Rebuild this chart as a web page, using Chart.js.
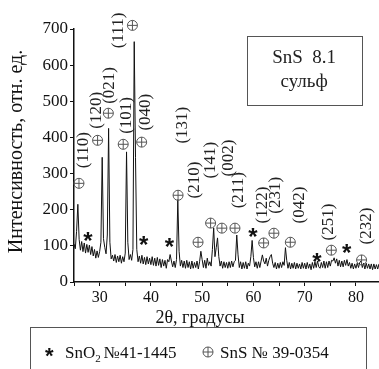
<!DOCTYPE html>
<html>
<head>
<meta charset="utf-8">
<script src="https://cdn.jsdelivr.net/npm/chart.js@4.4.0/dist/chart.umd.min.js"></script>
<style>
  html, body { margin: 0; padding: 0; background: #fff; }
</style>
</head>
<body>
<canvas id="xrd" width="379" height="369"></canvas>
<script>
// XRD pattern, SnS 8.1 (sulfurised) on a 0.25 deg grid
var startAngle = 25, stepAngle = 0.25;
var intensity = [
  105, 92, 140, 215, 118, 88, 112, 84, 108, 80, 104, 82, 102, 76, 98, 72, 90, 66, 86, 68,     // 25
  84, 110, 345, 120, 96, 78, 130, 425, 110, 64, 74, 58, 76, 54, 72, 56, 74, 52, 70, 56,        // 30
  80, 360, 110, 62, 76, 60, 90, 665, 345, 90, 56, 72, 52, 74, 50, 68, 48, 70, 50, 66,          // 35
  48, 70, 46, 66, 44, 68, 46, 64, 40, 62, 44, 60, 38, 62, 56, 76, 58, 42, 58, 40,              // 40
  62, 228, 85, 44, 60, 40, 58, 38, 60, 40, 56, 36, 58, 38, 54, 40, 58, 36, 56, 85,             // 45
  62, 40, 60, 38, 66, 46, 56, 44, 90, 150, 70, 95, 122, 70, 44, 58, 38, 56, 40, 54,            // 50
  38, 56, 40, 58, 42, 56, 60, 130, 75, 40, 56, 36, 54, 38, 56, 36, 52, 44, 70, 115,            // 55
  68, 42, 56, 38, 56, 40, 58, 75, 58, 50, 66, 44, 60, 70, 76, 52, 40, 54, 36, 52,              // 60
  38, 54, 40, 56, 46, 95, 60, 38, 54, 36, 52, 38, 54, 36, 52, 38, 50, 36, 54, 38,              // 65
  52, 36, 54, 38, 50, 34, 54, 38, 56, 40, 58, 42, 38, 54, 40, 58, 38, 56, 40, 58,              // 70
  44, 60, 58, 67, 52, 64, 44, 60, 42, 58, 42, 60, 46, 62, 44, 54, 38, 52, 36, 50,              // 75
  38, 52, 40, 54, 58, 40, 52, 36, 52, 38, 50, 36, 50, 34, 50, 36, 48, 36, 50                   // 80
];
var twoTheta = intensity.map(function (v, i) { return startAngle + i * stepAngle; });

var xTicks = [30, 40, 50, 60, 70, 80];
var yTicks = [0, 100, 200, 300, 400, 500, 600, 700];

// hkl labels of SnS reflections, placed in data units (2theta, intensity)
var hklText = ['(110)', '(120)', '(021)', '(111)', '(101)', '(040)', '(131)', '(210)',
               '(141)', '(002)', '(211)', '(122)', '(231)', '(042)', '(251)', '(232)'];
var hklAt = [[26.95, 365], [29.3, 475], [32.0, 544], [33.6, 696], [35.3, 461], [39.0, 470],
             [46.2, 434], [48.6, 282], [51.7, 337], [55.2, 343], [57.0, 254], [61.8, 213],
             [64.4, 240], [68.9, 213], [74.7, 166], [82.1, 155]];
// SnS marks (circled plus) and SnO2 marks (star)
var snsMarks = [[25.97, 273], [29.6, 392], [31.7, 467], [36.4, 710], [34.6, 381], [38.2, 387],
                [45.3, 240], [49.2, 110], [51.65, 163], [53.85, 149], [56.4, 149], [62.0, 108],
                [64.0, 135], [67.2, 110], [75.2, 88], [81.1, 61]];
var sno2Marks = [[27.7, 127], [38.6, 116], [43.6, 110], [59.9, 138], [72.4, 69], [78.2, 94]];

var serif = '"Liberation Serif", "Times New Roman", serif';

function plusCircle(ctx, px, py, r) {
  ctx.beginPath();
  ctx.arc(px, py, r, 0, Math.PI * 2);
  ctx.moveTo(px - r, py); ctx.lineTo(px + r, py);
  ctx.moveTo(px, py - r); ctx.lineTo(px, py + r);
  ctx.stroke();
}

var annotate = {
  id: 'annotate',
  afterDraw: function (chart) {
    var ctx = chart.ctx, x = chart.scales.x, y = chart.scales.y, area = chart.chartArea;
    ctx.save();

    // peak labels
    ctx.fillStyle = '#222';
    ctx.font = '17px ' + serif;
    ctx.textAlign = 'center';
    ctx.textBaseline = 'middle';
    hklText.forEach(function (t, i) {
      ctx.save();
      ctx.translate(x.getPixelForValue(hklAt[i][0]), y.getPixelForValue(hklAt[i][1]));
      ctx.rotate(-Math.PI / 2);
      ctx.fillText(t, 0, 0);
      ctx.restore();
    });

    ctx.strokeStyle = '#555';
    ctx.lineWidth = 1;
    snsMarks.forEach(function (m) {
      plusCircle(ctx, x.getPixelForValue(m[0]), y.getPixelForValue(m[1]), 5);
    });

    ctx.fillStyle = '#111';
    ctx.font = 'bold 24px "Liberation Sans", sans-serif';
    sno2Marks.forEach(function (m) {
      ctx.fillText('*', x.getPixelForValue(m[0]), y.getPixelForValue(m[1]) + 6);
    });

    // sample box
    var bx0 = x.getPixelForValue(58.7), bx1 = x.getPixelForValue(81.1);
    var by0 = y.getPixelForValue(682), by1 = y.getPixelForValue(490);
    ctx.strokeStyle = '#555';
    ctx.strokeRect(Math.round(bx0) + 0.5, Math.round(by0) + 0.5, Math.round(bx1 - bx0), Math.round(by1 - by0));
    ctx.fillStyle = '#222';
    ctx.font = '19px ' + serif;
    ctx.fillText('SnS  8.1', (bx0 + bx1) / 2, by0 + 23);
    ctx.fillText('сульф', (bx0 + bx1) / 2, by0 + 47);

    // axis titles
    ctx.fillStyle = '#111';
    ctx.font = '20px ' + serif;
    ctx.save();
    ctx.translate(17, (area.top + area.bottom) / 2 - 4);
    ctx.rotate(-Math.PI / 2);
    ctx.fillText('Интенсивность, отн. ед.', 0, 0);
    ctx.restore();
    ctx.font = '18px ' + serif;
    ctx.fillText('2θ, градусы', 200, area.bottom + 36);

    // phase legend
    ctx.strokeStyle = '#555';
    ctx.strokeRect(30.5, area.bottom + 45.5, 336, 60);
    ctx.textAlign = 'left';
    ctx.textBaseline = 'alphabetic';
    ctx.fillStyle = '#111';
    ctx.font = 'bold 22px "Liberation Sans", sans-serif';
    ctx.fillText('*', 45, area.bottom + 81);
    ctx.font = '17px ' + serif;
    var lx = 65, ly = area.bottom + 76;
    ctx.fillText('SnO', lx, ly);
    lx += ctx.measureText('SnO').width;
    ctx.font = '11px ' + serif;
    ctx.fillText('2', lx, ly + 4);
    lx += ctx.measureText('2').width + 3;
    ctx.font = '17px ' + serif;
    ctx.fillText('№41-1445', lx, ly);
    plusCircle(ctx, 208, ly - 6, 5);
    ctx.fillText('SnS № 39-0354', 220, ly);

    ctx.restore();
  }
};

new Chart(document.getElementById('xrd'), {
  type: 'line',
  data: {
    datasets: [{
      data: twoTheta.map(function (a, i) { return { x: a, y: intensity[i] }; }),
      borderColor: '#111',
      borderWidth: 1,
      pointRadius: 0,
      tension: 0,
      fill: false
    }]
  },
  options: {
    responsive: false,
    animation: false,
    devicePixelRatio: 1,
    layout: { padding: { top: 29, right: 0, left: 0, bottom: 0 } },
    plugins: { legend: { display: false }, tooltip: { enabled: false } },
    scales: {
      x: {
        type: 'linear',
        min: 25,
        max: 84.5,
        afterFit: function (s) { s.height = 87; },
        afterBuildTicks: function (s) {
          s.ticks = [25, 35, 45, 55, 65, 75].concat(xTicks).sort(function (a, b) { return a - b; })
            .map(function (v) { return { value: v }; });
        },
        ticks: {
          autoSkip: false,
          maxRotation: 0,
          padding: 2,
          color: '#111',
          font: { family: serif, size: 16 },
          callback: function (v) { return xTicks.indexOf(v) >= 0 ? String(v) : ''; }
        },
        grid: { drawOnChartArea: false, drawTicks: true, tickLength: 4, color: '#111' },
        border: { display: true, color: '#111', width: 1.5 }
      },
      y: {
        min: 0,
        max: 700,
        afterFit: function (s) { s.width = 74; },
        afterBuildTicks: function (s) {
          s.ticks = yTicks.map(function (v) { return { value: v }; });
        },
        ticks: {
          padding: 2,
          color: '#111',
          font: { family: serif, size: 17 }
        },
        grid: { drawOnChartArea: false, drawTicks: true, tickLength: 4, color: '#111' },
        border: { display: true, color: '#111', width: 1.5 }
      }
    }
  },
  plugins: [annotate]
});
</script>
</body>
</html>
